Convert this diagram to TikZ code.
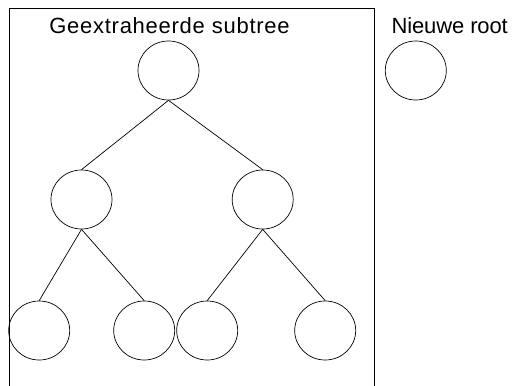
\documentclass[tikz,border=0pt]{standalone}
\usepackage{fontspec}
\setmainfont{Liberation Sans}
\usetikzlibrary{shapes.geometric}
\begin{document}
\begin{tikzpicture}[x=1pt,y=-1pt,
  treenode/.style={draw, ellipse, minimum width=61pt, minimum height=59pt, inner sep=0pt, line width=0.7pt},
  edge/.style={draw, line width=0.7pt},
  label/.style={font=\fontsize{22}{24}\selectfont, anchor=base, inner sep=0pt}]
\useasboundingbox (0,0) rectangle (515,386);
\draw[line width=0.8pt] (9,390) -- (9,8.3) -- (374,8.3) -- (374,390);
\node[label] (t1) at (169.5,33.5) {\addfontfeature{LetterSpace=3.4}Geextraheerde subtree};
\node[label] (t2) at (449.7,33.5) {\addfontfeature{LetterSpace=-0.6}Nieuwe root};
\node[treenode] (r) at (168.5,70.5) {};
\node[treenode] (a) at (81.5,199.5) {};
\node[treenode] (b) at (262.7,199.5) {};
\node[treenode] (a1) at (39.2,330.5) {};
\node[treenode] (a2) at (144.2,330.5) {};
\node[treenode] (b1) at (207.2,330.5) {};
\node[treenode] (b2) at (325.2,330.5) {};
\node[treenode] (n) at (415.8,70.5) {};
\draw[edge] (r.south) -- (a.north);
\draw[edge] (r.south) -- (b.north);
\draw[edge] (a.south) -- (a1.north);
\draw[edge] (a.south) -- (a2.north);
\draw[edge] (b.south) -- (b1.north);
\draw[edge] (b.south) -- (b2.north);
\end{tikzpicture}
\end{document}
